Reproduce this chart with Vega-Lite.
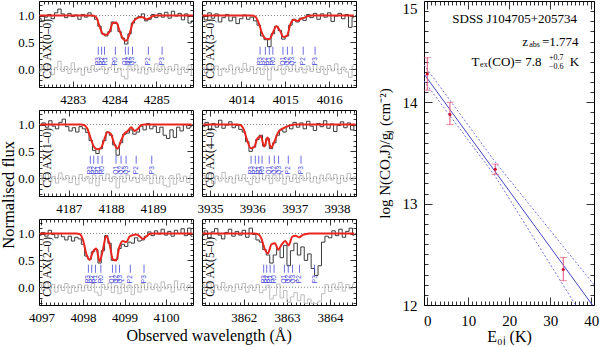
{
"$schema": "https://vega.github.io/schema/vega-lite/v6.json",
"background": "white",
"padding": {"left": 0, "top": -2, "right": 0, "bottom": 0},
"config": {
  "font": "Liberation Serif",
  "view": {"stroke": "black", "strokeWidth": 1},
  "axis": {"domain": false, "grid": false, "tickColor": "black", "tickWidth": 0.8, "labelColor": "black", "labelFont": "Liberation Serif", "labelFontSize": 13, "titleFont": "Liberation Serif", "titleFontWeight": "normal", "titleColor": "black", "labelOverlap": false, "labelFlush": false}
},
"datasets": {
"spec": [
{"p":1,"wl":4282.20,"f":0.95,"m":1.0,"r":-0.05},{"p":1,"wl":4282.28,"f":0.90,"m":1.0,"r":0.06},{"p":1,"wl":4282.36,"f":0.97,"m":1.0,"r":-0.03},{"p":1,"wl":4282.44,"f":1.02,"m":1.0,"r":0.08},{"p":1,"wl":4282.52,"f":0.94,"m":1.0,"r":-0.10},{"p":1,"wl":4282.60,"f":1.05,"m":1.0,"r":0.03},{"p":1,"wl":4282.68,"f":1.12,"m":1.0,"r":0.15},{"p":1,"wl":4282.76,"f":1.03,"m":1.0,"r":-0.04},{"p":1,"wl":4282.84,"f":0.96,"m":1.0,"r":0.05},{"p":1,"wl":4282.92,"f":1.04,"m":1.0,"r":-0.08},{"p":1,"wl":4283.00,"f":0.98,"m":1.0,"r":0.12},{"p":1,"wl":4283.08,"f":1.01,"m":1.0,"r":-0.05},{"p":1,"wl":4283.16,"f":0.93,"m":1.0,"r":0.02},{"p":1,"wl":4283.24,"f":1.02,"m":1.0,"r":-0.11},{"p":1,"wl":4283.32,"f":0.97,"m":1.0,"r":0.04},{"p":1,"wl":4283.40,"f":1.05,"m":1.0,"r":-0.06},{"p":1,"wl":4283.48,"f":0.99,"m":1.0,"r":0.07},{"p":1,"wl":4283.56,"f":0.93,"m":0.97,"r":-0.04},{"p":1,"wl":4283.64,"f":0.80,"m":0.80,"r":0.00},{"p":1,"wl":4283.72,"f":0.66,"m":0.66,"r":0.05},{"p":1,"wl":4283.80,"f":0.62,"m":0.64,"r":-0.08},{"p":1,"wl":4283.88,"f":0.70,"m":0.70,"r":0.03},{"p":1,"wl":4283.96,"f":0.88,"m":0.86,"r":0.09},{"p":1,"wl":4284.04,"f":0.85,"m":0.87,"r":-0.06},{"p":1,"wl":4284.12,"f":0.70,"m":0.72,"r":0.02},{"p":1,"wl":4284.20,"f":0.58,"m":0.57,"r":-0.13},{"p":1,"wl":4284.28,"f":0.47,"m":0.53,"r":-0.18},{"p":1,"wl":4284.36,"f":0.66,"m":0.66,"r":0.06},{"p":1,"wl":4284.44,"f":0.86,"m":0.87,"r":-0.03},{"p":1,"wl":4284.52,"f":0.95,"m":0.94,"r":0.08},{"p":1,"wl":4284.60,"f":0.98,"m":0.97,"r":-0.07},{"p":1,"wl":4284.68,"f":1.03,"m":0.97,"r":0.04},{"p":1,"wl":4284.76,"f":0.90,"m":0.93,"r":-0.09},{"p":1,"wl":4284.84,"f":0.93,"m":0.95,"r":0.03},{"p":1,"wl":4284.92,"f":1.02,"m":0.99,"r":-0.05},{"p":1,"wl":4285.00,"f":0.96,"m":1.0,"r":0.10},{"p":1,"wl":4285.08,"f":1.04,"m":1.0,"r":-0.04},{"p":1,"wl":4285.16,"f":0.97,"m":1.0,"r":0.06},{"p":1,"wl":4285.24,"f":1.06,"m":1.0,"r":-0.08},{"p":1,"wl":4285.32,"f":0.95,"m":1.0,"r":0.05},{"p":1,"wl":4285.40,"f":1.08,"m":1.0,"r":-0.03},{"p":1,"wl":4285.48,"f":0.99,"m":1.0,"r":0.09},{"p":1,"wl":4285.56,"f":1.04,"m":1.0,"r":-0.10},{"p":1,"wl":4285.64,"f":0.92,"m":1.0,"r":0.04},{"p":1,"wl":4285.72,"f":1.03,"m":1.0,"r":-0.06},{"p":1,"wl":4285.80,"f":0.86,"m":1.0,"r":0.08},{"p":1,"wl":4285.88,"f":0.90,"m":1.0,"r":-0.12},
{"p":2,"wl":4013.12,"f":0.97,"m":1.0,"r":0.04},{"p":2,"wl":4013.20,"f":0.92,"m":1.0,"r":-0.07},{"p":2,"wl":4013.28,"f":1.05,"m":1.0,"r":0.10},{"p":2,"wl":4013.36,"f":0.95,"m":1.0,"r":-0.03},{"p":2,"wl":4013.44,"f":1.03,"m":1.0,"r":0.06},{"p":2,"wl":4013.52,"f":0.88,"m":1.0,"r":-0.12},{"p":2,"wl":4013.60,"f":0.96,"m":1.0,"r":0.02},{"p":2,"wl":4013.68,"f":1.02,"m":1.0,"r":-0.05},{"p":2,"wl":4013.76,"f":0.90,"m":1.0,"r":0.08},{"p":2,"wl":4013.84,"f":0.97,"m":1.0,"r":-0.09},{"p":2,"wl":4013.92,"f":0.85,"m":1.0,"r":0.04},{"p":2,"wl":4014.00,"f":0.94,"m":1.0,"r":-0.06},{"p":2,"wl":4014.08,"f":1.01,"m":1.0,"r":0.11},{"p":2,"wl":4014.16,"f":0.93,"m":1.0,"r":-0.04},{"p":2,"wl":4014.24,"f":0.97,"m":1.0,"r":0.05},{"p":2,"wl":4014.32,"f":0.90,"m":0.98,"r":-0.08},{"p":2,"wl":4014.40,"f":0.82,"m":0.86,"r":0.03},{"p":2,"wl":4014.48,"f":0.62,"m":0.66,"r":-0.10},{"p":2,"wl":4014.56,"f":0.55,"m":0.57,"r":0.06},{"p":2,"wl":4014.64,"f":0.42,"m":0.56,"r":-0.20},{"p":2,"wl":4014.72,"f":0.66,"m":0.68,"r":0.04},{"p":2,"wl":4014.80,"f":0.80,"m":0.80,"r":-0.02},{"p":2,"wl":4014.88,"f":0.72,"m":0.72,"r":0.07},{"p":2,"wl":4014.96,"f":0.56,"m":0.60,"r":-0.09},{"p":2,"wl":4015.04,"f":0.62,"m":0.62,"r":0.05},{"p":2,"wl":4015.12,"f":0.82,"m":0.84,"r":-0.04},{"p":2,"wl":4015.20,"f":0.93,"m":0.92,"r":0.08},{"p":2,"wl":4015.28,"f":0.88,"m":0.90,"r":-0.05},{"p":2,"wl":4015.36,"f":0.95,"m":0.94,"r":0.03},{"p":2,"wl":4015.44,"f":0.91,"m":0.96,"r":-0.07},{"p":2,"wl":4015.52,"f":1.02,"m":0.99,"r":0.06},{"p":2,"wl":4015.60,"f":0.96,"m":1.0,"r":-0.04},{"p":2,"wl":4015.68,"f":1.04,"m":1.0,"r":0.09},{"p":2,"wl":4015.76,"f":0.93,"m":1.0,"r":-0.06},{"p":2,"wl":4015.84,"f":1.03,"m":1.0,"r":0.05},{"p":2,"wl":4015.92,"f":0.97,"m":1.0,"r":-0.10},{"p":2,"wl":4016.00,"f":1.05,"m":1.0,"r":0.07},{"p":2,"wl":4016.08,"f":0.89,"m":1.0,"r":-0.03},{"p":2,"wl":4016.16,"f":0.99,"m":1.0,"r":0.10},{"p":2,"wl":4016.24,"f":1.04,"m":1.0,"r":-0.08},{"p":2,"wl":4016.32,"f":0.94,"m":1.0,"r":0.04},{"p":2,"wl":4016.40,"f":1.02,"m":1.0,"r":-0.05},{"p":2,"wl":4016.48,"f":0.78,"m":1.0,"r":-0.15},{"p":2,"wl":4016.56,"f":0.96,"m":1.0,"r":0.06},
{"p":3,"wl":4186.32,"f":0.98,"m":1.0,"r":0.05},{"p":3,"wl":4186.40,"f":1.03,"m":1.0,"r":-0.04},{"p":3,"wl":4186.48,"f":0.95,"m":1.0,"r":0.08},{"p":3,"wl":4186.56,"f":1.07,"m":1.0,"r":-0.06},{"p":3,"wl":4186.64,"f":0.97,"m":1.0,"r":0.03},{"p":3,"wl":4186.72,"f":0.92,"m":1.0,"r":-0.09},{"p":3,"wl":4186.80,"f":1.04,"m":1.0,"r":0.10},{"p":3,"wl":4186.88,"f":1.10,"m":1.0,"r":-0.03},{"p":3,"wl":4186.96,"f":0.96,"m":1.0,"r":0.05},{"p":3,"wl":4187.04,"f":0.88,"m":1.0,"r":-0.08},{"p":3,"wl":4187.12,"f":0.94,"m":1.0,"r":0.04},{"p":3,"wl":4187.20,"f":0.86,"m":1.0,"r":-0.12},{"p":3,"wl":4187.28,"f":0.96,"m":1.0,"r":0.07},{"p":3,"wl":4187.36,"f":0.92,"m":0.99,"r":-0.05},{"p":3,"wl":4187.44,"f":0.85,"m":0.92,"r":0.03},{"p":3,"wl":4187.52,"f":0.70,"m":0.74,"r":-0.09},{"p":3,"wl":4187.60,"f":0.52,"m":0.58,"r":0.06},{"p":3,"wl":4187.68,"f":0.46,"m":0.54,"r":-0.14},{"p":3,"wl":4187.76,"f":0.55,"m":0.56,"r":0.05},{"p":3,"wl":4187.84,"f":0.70,"m":0.72,"r":-0.04},{"p":3,"wl":4187.92,"f":0.86,"m":0.86,"r":0.08},{"p":3,"wl":4188.00,"f":0.80,"m":0.82,"r":-0.06},{"p":3,"wl":4188.08,"f":0.62,"m":0.64,"r":0.03},{"p":3,"wl":4188.16,"f":0.43,"m":0.55,"r":-0.18},{"p":3,"wl":4188.24,"f":0.66,"m":0.70,"r":0.04},{"p":3,"wl":4188.32,"f":0.82,"m":0.83,"r":-0.07},{"p":3,"wl":4188.40,"f":0.84,"m":0.88,"r":0.06},{"p":3,"wl":4188.48,"f":0.90,"m":0.95,"r":-0.05},{"p":3,"wl":4188.56,"f":0.82,"m":0.88,"r":0.02},{"p":3,"wl":4188.64,"f":0.86,"m":0.92,"r":-0.08},{"p":3,"wl":4188.72,"f":0.97,"m":0.99,"r":0.07},{"p":3,"wl":4188.80,"f":0.90,"m":1.0,"r":-0.04},{"p":3,"wl":4188.88,"f":1.02,"m":1.0,"r":0.05},{"p":3,"wl":4188.96,"f":0.92,"m":1.0,"r":-0.10},{"p":3,"wl":4189.04,"f":0.97,"m":1.0,"r":0.06},{"p":3,"wl":4189.12,"f":0.85,"m":1.0,"r":-0.09},{"p":3,"wl":4189.20,"f":0.95,"m":1.0,"r":0.04},{"p":3,"wl":4189.28,"f":0.80,"m":1.0,"r":-0.13},{"p":3,"wl":4189.36,"f":0.74,"m":1.0,"r":-0.16},{"p":3,"wl":4189.44,"f":0.90,"m":1.0,"r":0.05},{"p":3,"wl":4189.52,"f":0.76,"m":1.0,"r":-0.11},{"p":3,"wl":4189.60,"f":0.95,"m":1.0,"r":0.08},{"p":3,"wl":4189.68,"f":0.88,"m":1.0,"r":-0.06},{"p":3,"wl":4189.76,"f":1.00,"m":1.0,"r":0.04},{"p":3,"wl":4189.84,"f":0.93,"m":1.0,"r":-0.08},{"p":3,"wl":4189.92,"f":0.96,"m":1.0,"r":0.06},
{"p":4,"wl":3934.84,"f":0.96,"m":1.0,"r":0.05},{"p":4,"wl":3934.92,"f":1.04,"m":1.0,"r":-0.06},{"p":4,"wl":3935.00,"f":0.90,"m":1.0,"r":0.08},{"p":4,"wl":3935.08,"f":1.02,"m":1.0,"r":-0.10},{"p":4,"wl":3935.16,"f":0.95,"m":1.0,"r":0.04},{"p":4,"wl":3935.24,"f":1.08,"m":1.0,"r":-0.05},{"p":4,"wl":3935.32,"f":0.93,"m":1.0,"r":0.11},{"p":4,"wl":3935.40,"f":0.99,"m":1.0,"r":-0.07},{"p":4,"wl":3935.48,"f":1.05,"m":1.0,"r":0.03},{"p":4,"wl":3935.56,"f":0.94,"m":1.0,"r":-0.09},{"p":4,"wl":3935.64,"f":0.98,"m":1.0,"r":0.06},{"p":4,"wl":3935.72,"f":0.91,"m":0.99,"r":-0.04},{"p":4,"wl":3935.80,"f":0.86,"m":0.90,"r":0.07},{"p":4,"wl":3935.88,"f":0.68,"m":0.70,"r":-0.06},{"p":4,"wl":3935.96,"f":0.50,"m":0.56,"r":-0.12},{"p":4,"wl":3936.04,"f":0.58,"m":0.58,"r":0.04},{"p":4,"wl":3936.12,"f":0.72,"m":0.74,"r":-0.08},{"p":4,"wl":3936.20,"f":0.80,"m":0.78,"r":0.09},{"p":4,"wl":3936.28,"f":0.60,"m":0.59,"r":-0.03},{"p":4,"wl":3936.36,"f":0.74,"m":0.76,"r":0.05},{"p":4,"wl":3936.44,"f":0.55,"m":0.57,"r":-0.10},{"p":4,"wl":3936.52,"f":0.66,"m":0.68,"r":0.06},{"p":4,"wl":3936.60,"f":0.80,"m":0.84,"r":-0.05},{"p":4,"wl":3936.68,"f":0.90,"m":0.91,"r":0.08},{"p":4,"wl":3936.76,"f":0.86,"m":0.94,"r":-0.11},{"p":4,"wl":3936.84,"f":0.97,"m":0.97,"r":0.04},{"p":4,"wl":3936.92,"f":0.92,"m":0.99,"r":-0.06},{"p":4,"wl":3937.00,"f":1.04,"m":1.0,"r":0.07},{"p":4,"wl":3937.08,"f":0.95,"m":1.0,"r":-0.08},{"p":4,"wl":3937.16,"f":1.03,"m":1.0,"r":0.05},{"p":4,"wl":3937.24,"f":0.92,"m":1.0,"r":-0.04},{"p":4,"wl":3937.32,"f":1.06,"m":1.0,"r":0.10},{"p":4,"wl":3937.40,"f":0.97,"m":1.0,"r":-0.07},{"p":4,"wl":3937.48,"f":0.89,"m":1.0,"r":0.03},{"p":4,"wl":3937.56,"f":1.02,"m":1.0,"r":-0.09},{"p":4,"wl":3937.64,"f":0.96,"m":1.0,"r":0.06},{"p":4,"wl":3937.72,"f":1.07,"m":1.0,"r":-0.05},{"p":4,"wl":3937.80,"f":0.93,"m":1.0,"r":0.08},{"p":4,"wl":3937.88,"f":1.01,"m":1.0,"r":-0.03},{"p":4,"wl":3937.96,"f":0.87,"m":1.0,"r":0.07},{"p":4,"wl":3938.04,"f":0.98,"m":1.0,"r":-0.10},{"p":4,"wl":3938.12,"f":1.05,"m":1.0,"r":0.05},{"p":4,"wl":3938.20,"f":0.94,"m":1.0,"r":-0.06},{"p":4,"wl":3938.28,"f":1.03,"m":1.0,"r":0.09},{"p":4,"wl":3938.36,"f":0.90,"m":1.0,"r":-0.04},{"p":4,"wl":3938.44,"f":0.98,"m":1.0,"r":0.03},
{"p":5,"wl":4096.96,"f":0.97,"m":1.0,"r":0.06},{"p":5,"wl":4097.04,"f":1.02,"m":1.0,"r":-0.05},{"p":5,"wl":4097.12,"f":0.95,"m":1.0,"r":0.08},{"p":5,"wl":4097.20,"f":1.06,"m":1.0,"r":-0.03},{"p":5,"wl":4097.28,"f":0.98,"m":1.0,"r":0.05},{"p":5,"wl":4097.36,"f":0.92,"m":1.0,"r":-0.09},{"p":5,"wl":4097.44,"f":1.00,"m":1.0,"r":0.04},{"p":5,"wl":4097.52,"f":0.94,"m":1.0,"r":-0.06},{"p":5,"wl":4097.60,"f":0.88,"m":1.0,"r":0.07},{"p":5,"wl":4097.68,"f":0.95,"m":1.0,"r":-0.11},{"p":5,"wl":4097.76,"f":0.86,"m":1.0,"r":0.03},{"p":5,"wl":4097.84,"f":0.93,"m":1.0,"r":-0.08},{"p":5,"wl":4097.92,"f":0.90,"m":0.99,"r":0.05},{"p":5,"wl":4098.00,"f":0.80,"m":0.88,"r":-0.07},{"p":5,"wl":4098.08,"f":0.58,"m":0.62,"r":0.04},{"p":5,"wl":4098.16,"f":0.52,"m":0.51,"r":-0.06},{"p":5,"wl":4098.24,"f":0.66,"m":0.66,"r":0.07},{"p":5,"wl":4098.32,"f":0.70,"m":0.72,"r":-0.09},{"p":5,"wl":4098.40,"f":0.45,"m":0.48,"r":-0.15},{"p":5,"wl":4098.48,"f":0.68,"m":0.70,"r":0.05},{"p":5,"wl":4098.56,"f":0.96,"m":0.96,"r":-0.04},{"p":5,"wl":4098.64,"f":0.82,"m":0.80,"r":0.08},{"p":5,"wl":4098.72,"f":0.50,"m":0.52,"r":-0.10},{"p":5,"wl":4098.80,"f":0.52,"m":0.50,"r":0.03},{"p":5,"wl":4098.88,"f":0.72,"m":0.76,"r":-0.12},{"p":5,"wl":4098.96,"f":0.80,"m":0.86,"r":0.06},{"p":5,"wl":4099.04,"f":0.76,"m":0.84,"r":-0.08},{"p":5,"wl":4099.12,"f":0.84,"m":0.94,"r":0.04},{"p":5,"wl":4099.20,"f":0.82,"m":0.97,"r":-0.14},{"p":5,"wl":4099.28,"f":0.92,"m":0.98,"r":0.05},{"p":5,"wl":4099.36,"f":0.86,"m":0.95,"r":-0.09},{"p":5,"wl":4099.44,"f":0.88,"m":0.90,"r":0.07},{"p":5,"wl":4099.52,"f":0.95,"m":0.94,"r":-0.05},{"p":5,"wl":4099.60,"f":1.03,"m":0.99,"r":0.08},{"p":5,"wl":4099.68,"f":0.96,"m":1.0,"r":-0.04},{"p":5,"wl":4099.76,"f":1.05,"m":1.0,"r":0.06},{"p":5,"wl":4099.84,"f":0.99,"m":1.0,"r":-0.07},{"p":5,"wl":4099.92,"f":1.08,"m":1.0,"r":0.10},{"p":5,"wl":4100.00,"f":0.97,"m":1.0,"r":-0.03},{"p":5,"wl":4100.08,"f":1.04,"m":1.0,"r":0.05},{"p":5,"wl":4100.16,"f":0.95,"m":1.0,"r":-0.09},{"p":5,"wl":4100.24,"f":1.06,"m":1.0,"r":0.12},{"p":5,"wl":4100.32,"f":1.00,"m":1.0,"r":-0.05},{"p":5,"wl":4100.40,"f":1.09,"m":1.0,"r":0.07},{"p":5,"wl":4100.48,"f":0.96,"m":1.0,"r":-0.06},{"p":5,"wl":4100.56,"f":1.10,"m":1.0,"r":0.04},{"p":5,"wl":4100.64,"f":0.95,"m":1.0,"r":-0.08},
{"p":6,"wl":3861.04,"f":0.96,"m":1.0,"r":0.05},{"p":6,"wl":3861.12,"f":1.05,"m":1.0,"r":-0.06},{"p":6,"wl":3861.20,"f":0.92,"m":1.0,"r":0.08},{"p":6,"wl":3861.28,"f":1.03,"m":1.0,"r":-0.10},{"p":6,"wl":3861.36,"f":1.09,"m":1.0,"r":0.04},{"p":6,"wl":3861.44,"f":0.97,"m":1.0,"r":-0.05},{"p":6,"wl":3861.52,"f":0.90,"m":1.0,"r":0.09},{"p":6,"wl":3861.60,"f":1.02,"m":1.0,"r":-0.07},{"p":6,"wl":3861.68,"f":1.08,"m":1.0,"r":0.03},{"p":6,"wl":3861.76,"f":0.95,"m":1.0,"r":-0.08},{"p":6,"wl":3861.84,"f":1.04,"m":1.0,"r":0.06},{"p":6,"wl":3861.92,"f":0.97,"m":1.0,"r":-0.04},{"p":6,"wl":3862.00,"f":1.06,"m":1.0,"r":0.07},{"p":6,"wl":3862.08,"f":0.93,"m":1.0,"r":-0.09},{"p":6,"wl":3862.16,"f":1.10,"m":1.0,"r":0.04},{"p":6,"wl":3862.24,"f":0.98,"m":1.0,"r":-0.06},{"p":6,"wl":3862.32,"f":0.88,"m":0.99,"r":0.05},{"p":6,"wl":3862.40,"f":0.84,"m":0.92,"r":-0.10},{"p":6,"wl":3862.48,"f":0.70,"m":0.72,"r":-0.05},{"p":6,"wl":3862.56,"f":0.60,"m":0.63,"r":0.04},{"p":6,"wl":3862.64,"f":0.45,"m":0.80,"r":-0.22},{"p":6,"wl":3862.72,"f":0.60,"m":0.82,"r":-0.15},{"p":6,"wl":3862.80,"f":0.72,"m":0.70,"r":0.06},{"p":6,"wl":3862.88,"f":0.55,"m":0.80,"r":-0.20},{"p":6,"wl":3862.96,"f":0.78,"m":0.86,"r":-0.06},{"p":6,"wl":3863.04,"f":0.40,"m":0.78,"r":-0.28},{"p":6,"wl":3863.12,"f":0.68,"m":0.94,"r":-0.18},{"p":6,"wl":3863.20,"f":0.82,"m":0.96,"r":-0.10},{"p":6,"wl":3863.28,"f":0.60,"m":0.93,"r":-0.25},{"p":6,"wl":3863.36,"f":0.75,"m":0.97,"r":-0.14},{"p":6,"wl":3863.44,"f":0.50,"m":0.99,"r":-0.30},{"p":6,"wl":3863.52,"f":0.62,"m":1.0,"r":-0.22},{"p":6,"wl":3863.60,"f":0.35,"m":1.0,"r":-0.30},{"p":6,"wl":3863.68,"f":0.22,"m":1.0,"r":-0.30},{"p":6,"wl":3863.76,"f":0.40,"m":1.0,"r":-0.26},{"p":6,"wl":3863.84,"f":0.84,"m":1.0,"r":-0.12},{"p":6,"wl":3863.92,"f":0.95,"m":1.0,"r":0.05},{"p":6,"wl":3864.00,"f":0.92,"m":1.0,"r":-0.08},{"p":6,"wl":3864.08,"f":1.05,"m":1.0,"r":0.06},{"p":6,"wl":3864.16,"f":0.96,"m":1.0,"r":-0.04},{"p":6,"wl":3864.24,"f":1.08,"m":1.0,"r":0.09},{"p":6,"wl":3864.32,"f":0.93,"m":1.0,"r":-0.07},{"p":6,"wl":3864.40,"f":1.04,"m":1.0,"r":0.05},{"p":6,"wl":3864.48,"f":1.10,"m":1.0,"r":-0.03},{"p":6,"wl":3864.56,"f":0.97,"m":1.0,"r":0.06}
],
"tk": [
{"p":1,"wl":4283.61,"lab":"R3"},{"p":1,"wl":4283.69,"lab":"R2"},{"p":1,"wl":4283.76,"lab":"R1"},{"p":1,"wl":4284.02,"lab":"R0"},{"p":1,"wl":4284.26,"lab":"Q1"},{"p":1,"wl":4284.33,"lab":"Q2"},{"p":1,"wl":4284.43,"lab":"Q3"},{"p":1,"wl":4284.81,"lab":"P2"},{"p":1,"wl":4285.14,"lab":"P3"},
{"p":2,"wl":4014.43,"lab":"R3"},{"p":2,"wl":4014.55,"lab":"R2"},{"p":2,"wl":4014.64,"lab":"R1"},{"p":2,"wl":4014.72,"lab":"R0"},{"p":2,"wl":4014.95,"lab":"Q1"},{"p":2,"wl":4015.05,"lab":"Q2"},{"p":2,"wl":4015.16,"lab":"Q3"},{"p":2,"wl":4015.41,"lab":"P2"},{"p":2,"wl":4015.68,"lab":"P3"},
{"p":3,"wl":4187.51,"lab":"R3"},{"p":3,"wl":4187.59,"lab":"R2"},{"p":3,"wl":4187.69,"lab":"R1"},{"p":3,"wl":4187.79,"lab":"R0"},{"p":3,"wl":4188.12,"lab":"Q1"},{"p":3,"wl":4188.24,"lab":"Q2"},{"p":3,"wl":4188.36,"lab":"Q3"},{"p":3,"wl":4188.60,"lab":"P2"},{"p":3,"wl":4188.97,"lab":"P3"},
{"p":4,"wl":3935.97,"lab":"R3"},{"p":4,"wl":3936.07,"lab":"R2"},{"p":4,"wl":3936.15,"lab":"R1"},{"p":4,"wl":3936.23,"lab":"R0"},{"p":4,"wl":3936.40,"lab":"Q1"},{"p":4,"wl":3936.52,"lab":"Q2"},{"p":4,"wl":3936.62,"lab":"Q3"},{"p":4,"wl":3936.85,"lab":"P2"},{"p":4,"wl":3937.15,"lab":"P3"},
{"p":5,"wl":4098.13,"lab":"R3"},{"p":5,"wl":4098.21,"lab":"R2"},{"p":5,"wl":4098.30,"lab":"R1"},{"p":5,"wl":4098.43,"lab":"R0"},{"p":5,"wl":4098.71,"lab":"Q1"},{"p":5,"wl":4098.79,"lab":"Q2"},{"p":5,"wl":4098.88,"lab":"Q3"},{"p":5,"wl":4099.14,"lab":"P2"},{"p":5,"wl":4099.47,"lab":"P3"},
{"p":6,"wl":3862.46,"lab":"R3"},{"p":6,"wl":3862.53,"lab":"R2"},{"p":6,"wl":3862.61,"lab":"R1"},{"p":6,"wl":3862.70,"lab":"R0"},{"p":6,"wl":3862.94,"lab":"Q1"},{"p":6,"wl":3863.03,"lab":"Q2"},{"p":6,"wl":3863.13,"lab":"Q3"},{"p":6,"wl":3863.29,"lab":"P2"},{"p":6,"wl":3863.64,"lab":"P3"}
],
"hl": [{"y":1},{"y":0}],
"pl": [
{"p":1,"wl":4282.40,"y":0.38,"t":"CO AX(0–0)"},{"p":2,"wl":4013.31,"y":0.38,"t":"CO AX(3–0)"},{"p":3,"wl":4186.50,"y":0.38,"t":"CO AX(1–0)"},{"p":4,"wl":3935.02,"y":0.38,"t":"CO AX(4–0)"},{"p":5,"wl":4097.15,"y":0.38,"t":"CO AX(2–0)"},{"p":6,"wl":3861.24,"y":0.38,"t":"CO AX(5–0)"}
],
"pts": [{"E":0,"N":14.28,"lo":14.12,"hi":14.44},{"E":5.53,"N":13.88,"lo":13.78,"hi":14.0},{"E":16.6,"N":13.34,"lo":13.29,"hi":13.39},{"E":33.2,"N":12.35,"lo":12.24,"hi":12.47}],
"fit": [{"s":"fit","E":-0.8,"N":14.28},{"s":"fit","E":40.3,"N":12.0},{"s":"up","E":-0.8,"N":14.37},{"s":"up","E":16.6,"N":13.41},{"s":"up","E":40.7,"N":12.2},{"s":"lo","E":-0.8,"N":14.21},{"s":"lo","E":16.6,"N":13.27},{"s":"lo","E":36.2,"N":12.0}],
"ann": [
{"E":6.1,"N":14.82,"t":"SDSS J104705+205734","k":"b"},
{"E":23.2,"N":14.60,"t":"z","k":"b"},{"E":24.9,"N":14.565,"t":"abs","k":"s"},{"E":28.0,"N":14.60,"t":"=1.774","k":"b"},
{"E":10.8,"N":14.40,"t":"T","k":"b"},{"E":12.9,"N":14.365,"t":"ex","k":"s"},{"E":14.8,"N":14.40,"t":"(CO)= 7.8","k":"b"},{"E":29.7,"N":14.435,"t":"+0.7","k":"s"},{"E":29.7,"N":14.345,"t":"−0.6","k":"s"},{"E":34.8,"N":14.40,"t":"K","k":"b"}
]
},
"spacing": 19,
"hconcat": [
{"title": {"text": "Normalised flux", "orient": "left", "anchor": "middle", "fontSize": 16.5, "font": "Liberation Serif", "fontWeight": "normal", "color": "black", "offset": 0, "dx": -24},
 "hconcat": [
 {"title": {"text": "Observed wavelength (Å)", "orient": "bottom", "anchor": "middle", "fontSize": 16, "font": "Liberation Serif", "fontWeight": "normal", "color": "black", "offset": 3, "dx": 22},
  "columns": 2, "spacing": {"row": 0, "column": 2},
  "concat": [
  {"width":154,"height":86,"resolve":{"axis":{"x":"independent","y":"independent"}},"layer":[
   {"data":{"name":"spec"},"transform":[{"filter":"datum.p == 1"}],"mark":{"type":"line","interpolate":"step","color":"#bdbdbd","strokeWidth":1,"clip":true},
    "encoding":{"x":{"field":"wl","type":"quantitative","scale":{"domain":[4282.19,4285.88],"nice":false,"zero":false},"axis":{"orient":"bottom","title":null,"tickCount":40,"labelExpr":"abs(datum.value-round(datum.value))<0.001 ? format(datum.value,'d') : ''","tickSize":{"condition":{"test":"abs(datum.value-round(datum.value))<0.001","value":-6},"value":-3},"labelPadding":{"condition":{"test":"abs(datum.value-round(datum.value))<0.001","value":12},"value":9}}},
     "y":{"field":"r","type":"quantitative","scale":{"domain":[-0.33,1.27],"nice":false,"zero":false},"axis":{"orient":"left","title":null,"values":[-0.3,-0.2,-0.1,0,0.1,0.2,0.3,0.4,0.5,0.6,0.7,0.8,0.9,1,1.1,1.2],"labelExpr":"abs(datum.value*2-round(datum.value*2))<0.001 ? format(datum.value,'.1f') : ''","tickSize":{"condition":{"test":"abs(datum.value*2-round(datum.value*2))<0.001","value":-6},"value":-3},"labelPadding":11}}}},
   {"data":{"name":"hl"},"mark":{"type":"rule","color":"#666666","strokeDash":[1,2],"strokeWidth":0.8},"encoding":{"y":{"field":"y","type":"quantitative","axis":null}}},
   {"data":{"name":"spec"},"transform":[{"filter":"datum.p == 1"}],"mark":{"type":"line","interpolate":"step","color":"#3a3a3a","strokeWidth":1,"clip":true},"encoding":{"x":{"field":"wl","type":"quantitative","axis":null},"y":{"field":"f","type":"quantitative","axis":null}}},
   {"data":{"name":"spec"},"transform":[{"filter":"datum.p == 1"}],"mark":{"type":"line","interpolate":"monotone","color":"#e8251f","strokeWidth":2,"clip":true},"encoding":{"x":{"field":"wl","type":"quantitative","axis":null},"y":{"field":"m","type":"quantitative","axis":null}}},
   {"data":{"name":"tk"},"transform":[{"filter":"datum.p == 1"}],"mark":{"type":"rule","color":"#4848d8","strokeWidth":0.8},"encoding":{"x":{"field":"wl","type":"quantitative","axis":null},"y":{"datum":0.27,"type":"quantitative","axis":null},"y2":{"datum":0.42}}},
   {"data":{"name":"tk"},"transform":[{"filter":"datum.p == 1"}],"mark":{"type":"text","color":"#4848d8","angle":270,"fontSize":6.5,"font":"Liberation Sans","align":"center","baseline":"middle"},"encoding":{"x":{"field":"wl","type":"quantitative","axis":null},"y":{"datum":0.15,"type":"quantitative","axis":null},"text":{"field":"lab"}}},
   {"data":{"name":"pl"},"transform":[{"filter":"datum.p == 1"}],"mark":{"type":"text","angle":270,"fontSize":11.5,"color":"black","align":"center","baseline":"middle"},"encoding":{"x":{"field":"wl","type":"quantitative","axis":null},"y":{"field":"y","type":"quantitative","axis":null},"text":{"field":"t"}}},
   {"data":{"name":"spec"},"transform":[{"filter":"datum.p == 1"}],"mark":{"type":"point","opacity":0,"size":0},"encoding":{"x":{"field":"wl","type":"quantitative","axis":{"orient":"top","title":null,"labels":false,"tickCount":40,"tickSize":{"condition":{"test":"abs(datum.value-round(datum.value))<0.001","value":-6},"value":-3}}},"y":{"field":"f","type":"quantitative","axis":{"orient":"right","title":null,"labels":false,"values":[-0.3,-0.2,-0.1,0,0.1,0.2,0.3,0.4,0.5,0.6,0.7,0.8,0.9,1,1.1,1.2],"tickSize":{"condition":{"test":"abs(datum.value*2-round(datum.value*2))<0.001","value":-6},"value":-3}}}}}
  ]},
  {"width":154,"height":86,"resolve":{"axis":{"x":"independent","y":"independent"}},"layer":[
   {"data":{"name":"spec"},"transform":[{"filter":"datum.p == 2"}],"mark":{"type":"line","interpolate":"step","color":"#bdbdbd","strokeWidth":1,"clip":true},
    "encoding":{"x":{"field":"wl","type":"quantitative","scale":{"domain":[4013.11,4016.61],"nice":false,"zero":false},"axis":{"orient":"bottom","title":null,"tickCount":40,"labelExpr":"abs(datum.value-round(datum.value))<0.001 ? format(datum.value,'d') : ''","tickSize":{"condition":{"test":"abs(datum.value-round(datum.value))<0.001","value":-6},"value":-3},"labelPadding":{"condition":{"test":"abs(datum.value-round(datum.value))<0.001","value":12},"value":9}}},
     "y":{"field":"r","type":"quantitative","scale":{"domain":[-0.33,1.27],"nice":false,"zero":false},"axis":{"orient":"left","title":null,"labels":false,"values":[-0.3,-0.2,-0.1,0,0.1,0.2,0.3,0.4,0.5,0.6,0.7,0.8,0.9,1,1.1,1.2],"tickSize":{"condition":{"test":"abs(datum.value*2-round(datum.value*2))<0.001","value":-6},"value":-3}}}}},
   {"data":{"name":"hl"},"mark":{"type":"rule","color":"#666666","strokeDash":[1,2],"strokeWidth":0.8},"encoding":{"y":{"field":"y","type":"quantitative","axis":null}}},
   {"data":{"name":"spec"},"transform":[{"filter":"datum.p == 2"}],"mark":{"type":"line","interpolate":"step","color":"#3a3a3a","strokeWidth":1,"clip":true},"encoding":{"x":{"field":"wl","type":"quantitative","axis":null},"y":{"field":"f","type":"quantitative","axis":null}}},
   {"data":{"name":"spec"},"transform":[{"filter":"datum.p == 2"}],"mark":{"type":"line","interpolate":"monotone","color":"#e8251f","strokeWidth":2,"clip":true},"encoding":{"x":{"field":"wl","type":"quantitative","axis":null},"y":{"field":"m","type":"quantitative","axis":null}}},
   {"data":{"name":"tk"},"transform":[{"filter":"datum.p == 2"}],"mark":{"type":"rule","color":"#4848d8","strokeWidth":0.8},"encoding":{"x":{"field":"wl","type":"quantitative","axis":null},"y":{"datum":0.27,"type":"quantitative","axis":null},"y2":{"datum":0.42}}},
   {"data":{"name":"tk"},"transform":[{"filter":"datum.p == 2"}],"mark":{"type":"text","color":"#4848d8","angle":270,"fontSize":6.5,"font":"Liberation Sans","align":"center","baseline":"middle"},"encoding":{"x":{"field":"wl","type":"quantitative","axis":null},"y":{"datum":0.15,"type":"quantitative","axis":null},"text":{"field":"lab"}}},
   {"data":{"name":"pl"},"transform":[{"filter":"datum.p == 2"}],"mark":{"type":"text","angle":270,"fontSize":11.5,"color":"black","align":"center","baseline":"middle"},"encoding":{"x":{"field":"wl","type":"quantitative","axis":null},"y":{"field":"y","type":"quantitative","axis":null},"text":{"field":"t"}}},
   {"data":{"name":"spec"},"transform":[{"filter":"datum.p == 2"}],"mark":{"type":"point","opacity":0,"size":0},"encoding":{"x":{"field":"wl","type":"quantitative","axis":{"orient":"top","title":null,"labels":false,"tickCount":40,"tickSize":{"condition":{"test":"abs(datum.value-round(datum.value))<0.001","value":-6},"value":-3}}},"y":{"field":"f","type":"quantitative","axis":{"orient":"right","title":null,"labels":false,"values":[-0.3,-0.2,-0.1,0,0.1,0.2,0.3,0.4,0.5,0.6,0.7,0.8,0.9,1,1.1,1.2],"tickSize":{"condition":{"test":"abs(datum.value*2-round(datum.value*2))<0.001","value":-6},"value":-3}}}}}
  ]},
  {"width":154,"height":86,"resolve":{"axis":{"x":"independent","y":"independent"}},"layer":[
   {"data":{"name":"spec"},"transform":[{"filter":"datum.p == 3"}],"mark":{"type":"line","interpolate":"step","color":"#bdbdbd","strokeWidth":1,"clip":true},
    "encoding":{"x":{"field":"wl","type":"quantitative","scale":{"domain":[4186.29,4189.95],"nice":false,"zero":false},"axis":{"orient":"bottom","title":null,"tickCount":40,"labelExpr":"abs(datum.value-round(datum.value))<0.001 ? format(datum.value,'d') : ''","tickSize":{"condition":{"test":"abs(datum.value-round(datum.value))<0.001","value":-6},"value":-3},"labelPadding":{"condition":{"test":"abs(datum.value-round(datum.value))<0.001","value":12},"value":9}}},
     "y":{"field":"r","type":"quantitative","scale":{"domain":[-0.33,1.27],"nice":false,"zero":false},"axis":{"orient":"left","title":null,"values":[-0.3,-0.2,-0.1,0,0.1,0.2,0.3,0.4,0.5,0.6,0.7,0.8,0.9,1,1.1,1.2],"labelExpr":"abs(datum.value*2-round(datum.value*2))<0.001 ? format(datum.value,'.1f') : ''","tickSize":{"condition":{"test":"abs(datum.value*2-round(datum.value*2))<0.001","value":-6},"value":-3},"labelPadding":11}}}},
   {"data":{"name":"hl"},"mark":{"type":"rule","color":"#666666","strokeDash":[1,2],"strokeWidth":0.8},"encoding":{"y":{"field":"y","type":"quantitative","axis":null}}},
   {"data":{"name":"spec"},"transform":[{"filter":"datum.p == 3"}],"mark":{"type":"line","interpolate":"step","color":"#3a3a3a","strokeWidth":1,"clip":true},"encoding":{"x":{"field":"wl","type":"quantitative","axis":null},"y":{"field":"f","type":"quantitative","axis":null}}},
   {"data":{"name":"spec"},"transform":[{"filter":"datum.p == 3"}],"mark":{"type":"line","interpolate":"monotone","color":"#e8251f","strokeWidth":2,"clip":true},"encoding":{"x":{"field":"wl","type":"quantitative","axis":null},"y":{"field":"m","type":"quantitative","axis":null}}},
   {"data":{"name":"tk"},"transform":[{"filter":"datum.p == 3"}],"mark":{"type":"rule","color":"#4848d8","strokeWidth":0.8},"encoding":{"x":{"field":"wl","type":"quantitative","axis":null},"y":{"datum":0.27,"type":"quantitative","axis":null},"y2":{"datum":0.42}}},
   {"data":{"name":"tk"},"transform":[{"filter":"datum.p == 3"}],"mark":{"type":"text","color":"#4848d8","angle":270,"fontSize":6.5,"font":"Liberation Sans","align":"center","baseline":"middle"},"encoding":{"x":{"field":"wl","type":"quantitative","axis":null},"y":{"datum":0.15,"type":"quantitative","axis":null},"text":{"field":"lab"}}},
   {"data":{"name":"pl"},"transform":[{"filter":"datum.p == 3"}],"mark":{"type":"text","angle":270,"fontSize":11.5,"color":"black","align":"center","baseline":"middle"},"encoding":{"x":{"field":"wl","type":"quantitative","axis":null},"y":{"field":"y","type":"quantitative","axis":null},"text":{"field":"t"}}},
   {"data":{"name":"spec"},"transform":[{"filter":"datum.p == 3"}],"mark":{"type":"point","opacity":0,"size":0},"encoding":{"x":{"field":"wl","type":"quantitative","axis":{"orient":"top","title":null,"labels":false,"tickCount":40,"tickSize":{"condition":{"test":"abs(datum.value-round(datum.value))<0.001","value":-6},"value":-3}}},"y":{"field":"f","type":"quantitative","axis":{"orient":"right","title":null,"labels":false,"values":[-0.3,-0.2,-0.1,0,0.1,0.2,0.3,0.4,0.5,0.6,0.7,0.8,0.9,1,1.1,1.2],"tickSize":{"condition":{"test":"abs(datum.value*2-round(datum.value*2))<0.001","value":-6},"value":-3}}}}}
  ]},
  {"width":154,"height":86,"resolve":{"axis":{"x":"independent","y":"independent"}},"layer":[
   {"data":{"name":"spec"},"transform":[{"filter":"datum.p == 4"}],"mark":{"type":"line","interpolate":"step","color":"#bdbdbd","strokeWidth":1,"clip":true},
    "encoding":{"x":{"field":"wl","type":"quantitative","scale":{"domain":[3934.81,3938.45],"nice":false,"zero":false},"axis":{"orient":"bottom","title":null,"tickCount":40,"labelExpr":"abs(datum.value-round(datum.value))<0.001 ? format(datum.value,'d') : ''","tickSize":{"condition":{"test":"abs(datum.value-round(datum.value))<0.001","value":-6},"value":-3},"labelPadding":{"condition":{"test":"abs(datum.value-round(datum.value))<0.001","value":12},"value":9}}},
     "y":{"field":"r","type":"quantitative","scale":{"domain":[-0.33,1.27],"nice":false,"zero":false},"axis":{"orient":"left","title":null,"labels":false,"values":[-0.3,-0.2,-0.1,0,0.1,0.2,0.3,0.4,0.5,0.6,0.7,0.8,0.9,1,1.1,1.2],"tickSize":{"condition":{"test":"abs(datum.value*2-round(datum.value*2))<0.001","value":-6},"value":-3}}}}},
   {"data":{"name":"hl"},"mark":{"type":"rule","color":"#666666","strokeDash":[1,2],"strokeWidth":0.8},"encoding":{"y":{"field":"y","type":"quantitative","axis":null}}},
   {"data":{"name":"spec"},"transform":[{"filter":"datum.p == 4"}],"mark":{"type":"line","interpolate":"step","color":"#3a3a3a","strokeWidth":1,"clip":true},"encoding":{"x":{"field":"wl","type":"quantitative","axis":null},"y":{"field":"f","type":"quantitative","axis":null}}},
   {"data":{"name":"spec"},"transform":[{"filter":"datum.p == 4"}],"mark":{"type":"line","interpolate":"monotone","color":"#e8251f","strokeWidth":2,"clip":true},"encoding":{"x":{"field":"wl","type":"quantitative","axis":null},"y":{"field":"m","type":"quantitative","axis":null}}},
   {"data":{"name":"tk"},"transform":[{"filter":"datum.p == 4"}],"mark":{"type":"rule","color":"#4848d8","strokeWidth":0.8},"encoding":{"x":{"field":"wl","type":"quantitative","axis":null},"y":{"datum":0.27,"type":"quantitative","axis":null},"y2":{"datum":0.42}}},
   {"data":{"name":"tk"},"transform":[{"filter":"datum.p == 4"}],"mark":{"type":"text","color":"#4848d8","angle":270,"fontSize":6.5,"font":"Liberation Sans","align":"center","baseline":"middle"},"encoding":{"x":{"field":"wl","type":"quantitative","axis":null},"y":{"datum":0.15,"type":"quantitative","axis":null},"text":{"field":"lab"}}},
   {"data":{"name":"pl"},"transform":[{"filter":"datum.p == 4"}],"mark":{"type":"text","angle":270,"fontSize":11.5,"color":"black","align":"center","baseline":"middle"},"encoding":{"x":{"field":"wl","type":"quantitative","axis":null},"y":{"field":"y","type":"quantitative","axis":null},"text":{"field":"t"}}},
   {"data":{"name":"spec"},"transform":[{"filter":"datum.p == 4"}],"mark":{"type":"point","opacity":0,"size":0},"encoding":{"x":{"field":"wl","type":"quantitative","axis":{"orient":"top","title":null,"labels":false,"tickCount":40,"tickSize":{"condition":{"test":"abs(datum.value-round(datum.value))<0.001","value":-6},"value":-3}}},"y":{"field":"f","type":"quantitative","axis":{"orient":"right","title":null,"labels":false,"values":[-0.3,-0.2,-0.1,0,0.1,0.2,0.3,0.4,0.5,0.6,0.7,0.8,0.9,1,1.1,1.2],"tickSize":{"condition":{"test":"abs(datum.value*2-round(datum.value*2))<0.001","value":-6},"value":-3}}}}}
  ]},
  {"width":154,"height":86,"resolve":{"axis":{"x":"independent","y":"independent"}},"layer":[
   {"data":{"name":"spec"},"transform":[{"filter":"datum.p == 5"}],"mark":{"type":"line","interpolate":"step","color":"#bdbdbd","strokeWidth":1,"clip":true},
    "encoding":{"x":{"field":"wl","type":"quantitative","scale":{"domain":[4096.94,4100.65],"nice":false,"zero":false},"axis":{"orient":"bottom","title":null,"tickCount":40,"labelExpr":"abs(datum.value-round(datum.value))<0.001 ? format(datum.value,'d') : ''","tickSize":{"condition":{"test":"abs(datum.value-round(datum.value))<0.001","value":-6},"value":-3},"labelPadding":{"condition":{"test":"abs(datum.value-round(datum.value))<0.001","value":12},"value":9}}},
     "y":{"field":"r","type":"quantitative","scale":{"domain":[-0.33,1.27],"nice":false,"zero":false},"axis":{"orient":"left","title":null,"values":[-0.3,-0.2,-0.1,0,0.1,0.2,0.3,0.4,0.5,0.6,0.7,0.8,0.9,1,1.1,1.2],"labelExpr":"abs(datum.value*2-round(datum.value*2))<0.001 ? format(datum.value,'.1f') : ''","tickSize":{"condition":{"test":"abs(datum.value*2-round(datum.value*2))<0.001","value":-6},"value":-3},"labelPadding":11}}}},
   {"data":{"name":"hl"},"mark":{"type":"rule","color":"#666666","strokeDash":[1,2],"strokeWidth":0.8},"encoding":{"y":{"field":"y","type":"quantitative","axis":null}}},
   {"data":{"name":"spec"},"transform":[{"filter":"datum.p == 5"}],"mark":{"type":"line","interpolate":"step","color":"#3a3a3a","strokeWidth":1,"clip":true},"encoding":{"x":{"field":"wl","type":"quantitative","axis":null},"y":{"field":"f","type":"quantitative","axis":null}}},
   {"data":{"name":"spec"},"transform":[{"filter":"datum.p == 5"}],"mark":{"type":"line","interpolate":"monotone","color":"#e8251f","strokeWidth":2,"clip":true},"encoding":{"x":{"field":"wl","type":"quantitative","axis":null},"y":{"field":"m","type":"quantitative","axis":null}}},
   {"data":{"name":"tk"},"transform":[{"filter":"datum.p == 5"}],"mark":{"type":"rule","color":"#4848d8","strokeWidth":0.8},"encoding":{"x":{"field":"wl","type":"quantitative","axis":null},"y":{"datum":0.27,"type":"quantitative","axis":null},"y2":{"datum":0.42}}},
   {"data":{"name":"tk"},"transform":[{"filter":"datum.p == 5"}],"mark":{"type":"text","color":"#4848d8","angle":270,"fontSize":6.5,"font":"Liberation Sans","align":"center","baseline":"middle"},"encoding":{"x":{"field":"wl","type":"quantitative","axis":null},"y":{"datum":0.15,"type":"quantitative","axis":null},"text":{"field":"lab"}}},
   {"data":{"name":"pl"},"transform":[{"filter":"datum.p == 5"}],"mark":{"type":"text","angle":270,"fontSize":11.5,"color":"black","align":"center","baseline":"middle"},"encoding":{"x":{"field":"wl","type":"quantitative","axis":null},"y":{"field":"y","type":"quantitative","axis":null},"text":{"field":"t"}}},
   {"data":{"name":"spec"},"transform":[{"filter":"datum.p == 5"}],"mark":{"type":"point","opacity":0,"size":0},"encoding":{"x":{"field":"wl","type":"quantitative","axis":{"orient":"top","title":null,"labels":false,"tickCount":40,"tickSize":{"condition":{"test":"abs(datum.value-round(datum.value))<0.001","value":-6},"value":-3}}},"y":{"field":"f","type":"quantitative","axis":{"orient":"right","title":null,"labels":false,"values":[-0.3,-0.2,-0.1,0,0.1,0.2,0.3,0.4,0.5,0.6,0.7,0.8,0.9,1,1.1,1.2],"tickSize":{"condition":{"test":"abs(datum.value*2-round(datum.value*2))<0.001","value":-6},"value":-3}}}}}
  ]},
  {"width":154,"height":86,"resolve":{"axis":{"x":"independent","y":"independent"}},"layer":[
   {"data":{"name":"spec"},"transform":[{"filter":"datum.p == 6"}],"mark":{"type":"line","interpolate":"step","color":"#bdbdbd","strokeWidth":1,"clip":true},
    "encoding":{"x":{"field":"wl","type":"quantitative","scale":{"domain":[3861.03,3864.6],"nice":false,"zero":false},"axis":{"orient":"bottom","title":null,"tickCount":40,"labelExpr":"abs(datum.value-round(datum.value))<0.001 ? format(datum.value,'d') : ''","tickSize":{"condition":{"test":"abs(datum.value-round(datum.value))<0.001","value":-6},"value":-3},"labelPadding":{"condition":{"test":"abs(datum.value-round(datum.value))<0.001","value":12},"value":9}}},
     "y":{"field":"r","type":"quantitative","scale":{"domain":[-0.33,1.27],"nice":false,"zero":false},"axis":{"orient":"left","title":null,"labels":false,"values":[-0.3,-0.2,-0.1,0,0.1,0.2,0.3,0.4,0.5,0.6,0.7,0.8,0.9,1,1.1,1.2],"tickSize":{"condition":{"test":"abs(datum.value*2-round(datum.value*2))<0.001","value":-6},"value":-3}}}}},
   {"data":{"name":"hl"},"mark":{"type":"rule","color":"#666666","strokeDash":[1,2],"strokeWidth":0.8},"encoding":{"y":{"field":"y","type":"quantitative","axis":null}}},
   {"data":{"name":"spec"},"transform":[{"filter":"datum.p == 6"}],"mark":{"type":"line","interpolate":"step","color":"#3a3a3a","strokeWidth":1,"clip":true},"encoding":{"x":{"field":"wl","type":"quantitative","axis":null},"y":{"field":"f","type":"quantitative","axis":null}}},
   {"data":{"name":"spec"},"transform":[{"filter":"datum.p == 6"}],"mark":{"type":"line","interpolate":"monotone","color":"#e8251f","strokeWidth":2,"clip":true},"encoding":{"x":{"field":"wl","type":"quantitative","axis":null},"y":{"field":"m","type":"quantitative","axis":null}}},
   {"data":{"name":"tk"},"transform":[{"filter":"datum.p == 6"}],"mark":{"type":"rule","color":"#4848d8","strokeWidth":0.8},"encoding":{"x":{"field":"wl","type":"quantitative","axis":null},"y":{"datum":0.27,"type":"quantitative","axis":null},"y2":{"datum":0.42}}},
   {"data":{"name":"tk"},"transform":[{"filter":"datum.p == 6"}],"mark":{"type":"text","color":"#4848d8","angle":270,"fontSize":6.5,"font":"Liberation Sans","align":"center","baseline":"middle"},"encoding":{"x":{"field":"wl","type":"quantitative","axis":null},"y":{"datum":0.15,"type":"quantitative","axis":null},"text":{"field":"lab"}}},
   {"data":{"name":"pl"},"transform":[{"filter":"datum.p == 6"}],"mark":{"type":"text","angle":270,"fontSize":11.5,"color":"black","align":"center","baseline":"middle"},"encoding":{"x":{"field":"wl","type":"quantitative","axis":null},"y":{"field":"y","type":"quantitative","axis":null},"text":{"field":"t"}}},
   {"data":{"name":"spec"},"transform":[{"filter":"datum.p == 6"}],"mark":{"type":"point","opacity":0,"size":0},"encoding":{"x":{"field":"wl","type":"quantitative","axis":{"orient":"top","title":null,"labels":false,"tickCount":40,"tickSize":{"condition":{"test":"abs(datum.value-round(datum.value))<0.001","value":-6},"value":-3}}},"y":{"field":"f","type":"quantitative","axis":{"orient":"right","title":null,"labels":false,"values":[-0.3,-0.2,-0.1,0,0.1,0.2,0.3,0.4,0.5,0.6,0.7,0.8,0.9,1,1.1,1.2],"tickSize":{"condition":{"test":"abs(datum.value*2-round(datum.value*2))<0.001","value":-6},"value":-3}}}}}
  ]}
  ]}
 ]},
{"width":170,"height":304,"resolve":{"axis":{"x":"independent","y":"independent"}},"layer":[
  {"data":{"name":"fit"},"transform":[{"filter":"datum.s == 'fit'"}],"mark":{"type":"line","color":"#4646c8","strokeWidth":1,"clip":true},
   "encoding":{"x":{"field":"E","type":"quantitative","scale":{"domain":[-0.8,40.7],"nice":false,"zero":false},"axis":{"orient":"bottom","title":"E₀ⱼ (K)","titleFontSize":16,"titleY":31,"titleBaseline":"middle","tickCount":45,"labelExpr":"abs(datum.value/10-round(datum.value/10))<0.001 ? format(datum.value,'d') : ''","tickSize":{"condition":{"test":"abs(datum.value/10-round(datum.value/10))<0.001","value":-8},"value":-4},"labelPadding":16,"labelFontSize":15}},
    "y":{"field":"N","type":"quantitative","scale":{"domain":[12,15],"nice":false,"zero":false},"axis":{"orient":"left","title":"log N(CO,J)/gⱼ  (cm⁻²)","titleFontSize":15,"titlePadding":10,"tickCount":30,"labelExpr":"abs(datum.value-round(datum.value))<0.001 ? format(datum.value,'d') : ''","labelBaseline":{"condition":{"test":"datum.value > 14.99","value":"top"},"value":"middle"},"tickSize":{"condition":{"test":"abs(datum.value-round(datum.value))<0.001","value":-8},"value":-4},"labelPadding":15,"labelFontSize":15}}}},
  {"data":{"name":"fit"},"transform":[{"filter":"datum.s != 'fit'"}],"mark":{"type":"line","color":"#7272e6","strokeWidth":1,"strokeDash":[2,2],"clip":true},"encoding":{"x":{"field":"E","type":"quantitative","axis":null},"y":{"field":"N","type":"quantitative","axis":null},"detail":{"field":"s"}}},
  {"data":{"name":"pts"},"mark":{"type":"rule","color":"#e8507a","strokeWidth":1},"encoding":{"x":{"field":"E","type":"quantitative","axis":null},"y":{"field":"lo","type":"quantitative","axis":null},"y2":{"field":"hi"}}},
  {"data":{"name":"pts"},"mark":{"type":"tick","orient":"horizontal","color":"#e8507a","size":7,"thickness":1},"encoding":{"x":{"field":"E","type":"quantitative","axis":null},"y":{"field":"lo","type":"quantitative","axis":null}}},
  {"data":{"name":"pts"},"mark":{"type":"tick","orient":"horizontal","color":"#e8507a","size":7,"thickness":1},"encoding":{"x":{"field":"E","type":"quantitative","axis":null},"y":{"field":"hi","type":"quantitative","axis":null}}},
  {"data":{"name":"pts"},"mark":{"type":"point","filled":true,"color":"#c8102e","size":10,"opacity":1},"encoding":{"x":{"field":"E","type":"quantitative","axis":null},"y":{"field":"N","type":"quantitative","axis":null}}},
  {"data":{"name":"ann"},"transform":[{"filter":"datum.k == 'b'"}],"mark":{"type":"text","fontSize":13,"color":"black","align":"left","baseline":"middle"},"encoding":{"x":{"field":"E","type":"quantitative","axis":null},"y":{"field":"N","type":"quantitative","axis":null},"text":{"field":"t"}}},
  {"data":{"name":"ann"},"transform":[{"filter":"datum.k == 's'"}],"mark":{"type":"text","fontSize":8,"color":"black","align":"left","baseline":"middle"},"encoding":{"x":{"field":"E","type":"quantitative","axis":null},"y":{"field":"N","type":"quantitative","axis":null},"text":{"field":"t"}}},
  {"data":{"name":"pts"},"mark":{"type":"point","opacity":0,"size":0},"encoding":{"x":{"field":"E","type":"quantitative","axis":{"orient":"top","title":null,"labels":false,"tickCount":45,"tickSize":{"condition":{"test":"abs(datum.value/10-round(datum.value/10))<0.001","value":-8},"value":-4}}},"y":{"field":"N","type":"quantitative","axis":{"orient":"right","title":null,"labels":false,"tickCount":30,"tickSize":{"condition":{"test":"abs(datum.value-round(datum.value))<0.001","value":-8},"value":-4}}}}}
]}
]
}
